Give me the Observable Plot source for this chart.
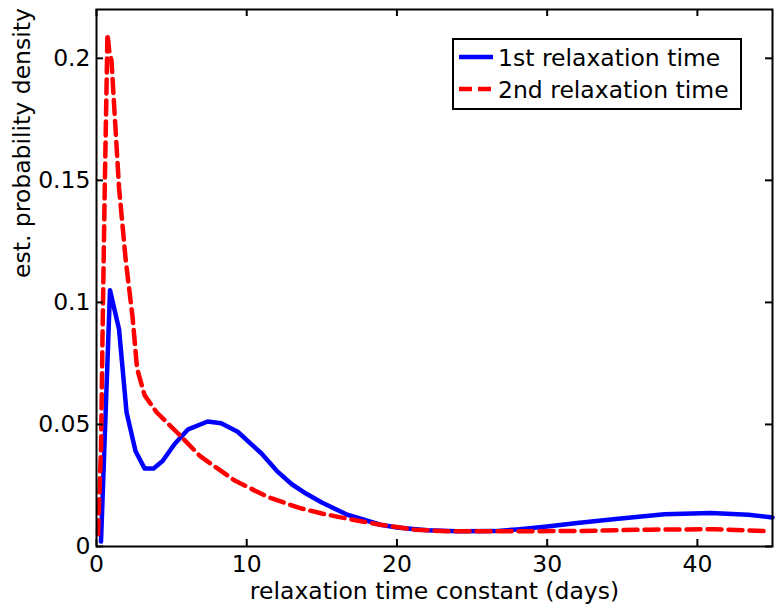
<!DOCTYPE html>
<html><head><meta charset="utf-8">
<script src="https://cdn.jsdelivr.net/npm/d3@7"></script>
<script src="https://cdn.jsdelivr.net/npm/@observablehq/plot@0.6"></script>
<style>
body{margin:0;background:#fff;}
#wrap{position:relative;width:780px;height:615px;}
#legend{position:absolute;left:452px;top:38px;}
</style></head><body><div id="wrap"></div>
<script>
const blueX = [0.3, 0.9, 1.5, 2.0, 2.6, 3.2, 3.8, 4.4, 5.2, 6.1, 7.4, 8.3, 9.4, 11.0, 12.0, 13.0, 14.0, 15.0, 16.7, 18.9, 20, 22, 24, 26.5, 28, 30, 32, 34.4, 37.8, 40.9, 43.4, 45];
const blueY = [0.002, 0.105, 0.089, 0.055, 0.039, 0.032, 0.032, 0.035, 0.042, 0.048, 0.0512, 0.0505, 0.047, 0.038, 0.031, 0.0255, 0.0215, 0.018, 0.013, 0.0089, 0.0078, 0.0067, 0.0062, 0.0063, 0.007, 0.0082, 0.0096, 0.0112, 0.0132, 0.0137, 0.013, 0.0119];
const redX = [0.1, 0.3, 0.4, 0.55, 0.73, 0.85, 1.0, 1.2, 1.5, 1.95, 2.4, 2.7, 3.2, 4.0, 5.4, 6.9, 9.2, 11.4, 13.5, 15.0, 16.7, 18.9, 21.2, 23.4, 27.9, 32.3, 36.8, 41.2, 44.8];
const redY = [0.005, 0.04, 0.086, 0.147, 0.21, 0.203, 0.199, 0.178, 0.147, 0.117, 0.094, 0.073, 0.062, 0.055, 0.0465, 0.037, 0.027, 0.0203, 0.0158, 0.0135, 0.0114, 0.0089, 0.0069, 0.0062, 0.0062, 0.0064, 0.0069, 0.0071, 0.0062];
const xTicks = [0, 10, 20, 30, 40];
const yTicks = [0, 0.05, 0.1, 0.15, 0.2];
const seriesNames = ["1st relaxation time", "2nd relaxation time"];
const xLabel = "relaxation time constant (days)";
const yLabel = "est. probability density";

const blue = blueX.map((x, i) => ({x, y: blueY[i]}));
const red = redX.map((x, i) => ({x, y: redY[i]}));
const FONT = "DejaVu Sans";
const FS = 23.5;
const W = 780, H = 615, ML = 96, MR = 8, MT = 9, MB = 69, TK = 7;
const innerW = W - ML - MR, innerH = H - MT - MB;

const chart = Plot.plot({
  width: W, height: H,
  marginLeft: ML, marginRight: MR, marginTop: MT, marginBottom: MB,
  x: {domain: [0, 45]},
  y: {domain: [0, 0.22]},
  style: {fontFamily: FONT, fontSize: FS + "px", background: "white", color: "black"},
  marks: [
    Plot.line(blue, {x: "x", y: "y", stroke: "#0000ff", strokeWidth: 4.5, strokeLinejoin: "round"}),
    Plot.line(red, {x: "x", y: "y", stroke: "#ff0000", strokeWidth: 4.5, strokeDasharray: "14,7"}),
    Plot.frame({stroke: "black", strokeWidth: 2}),
    Plot.tickX(xTicks, {x: d => d, insetTop: innerH - TK, stroke: "black", strokeWidth: 2}),
    Plot.tickX(xTicks, {x: d => d, insetBottom: innerH - TK, stroke: "black", strokeWidth: 2}),
    Plot.tickY(yTicks, {y: d => d, insetRight: innerW - TK, stroke: "black", strokeWidth: 2}),
    Plot.tickY(yTicks, {y: d => d, insetLeft: innerW - TK, stroke: "black", strokeWidth: 2}),
    Plot.axisX(xTicks, {anchor: "bottom", tickSize: 0, tickPadding: 9, tickFormat: d => String(d), label: null, fontSize: FS}),
    Plot.axisY(yTicks, {anchor: "left", tickSize: 0, tickPadding: 6, tickFormat: d => String(d), label: null, fontSize: FS}),
    Plot.text([xLabel], {text: d => d, frameAnchor: "bottom", dy: 52, fontSize: FS}),
    Plot.text([yLabel], {text: d => d, frameAnchor: "left", dx: -74, rotate: -90, fontSize: FS})
  ]
});
const wrap = document.getElementById("wrap");
wrap.appendChild(chart);

// legend
const ns = "http://www.w3.org/2000/svg";
const lg = document.createElementNS(ns, "svg");
lg.setAttribute("id", "legend");
lg.setAttribute("width", 290); lg.setAttribute("height", 72);
const rect = document.createElementNS(ns, "rect");
rect.setAttribute("x", 1); rect.setAttribute("y", 1);
rect.setAttribute("width", 288); rect.setAttribute("height", 70);
rect.setAttribute("fill", "white"); rect.setAttribute("stroke", "black"); rect.setAttribute("stroke-width", 2);
lg.appendChild(rect);
const styles = [{stroke: "#0000ff", dash: null}, {stroke: "#ff0000", dash: "13,6"}];
seriesNames.forEach((name, i) => {
  const cy = 19 + i * 32;
  const ln = document.createElementNS(ns, "line");
  ln.setAttribute("x1", 7); ln.setAttribute("x2", 41);
  ln.setAttribute("y1", cy); ln.setAttribute("y2", cy);
  ln.setAttribute("stroke", styles[i].stroke); ln.setAttribute("stroke-width", 4.5);
  if (styles[i].dash) ln.setAttribute("stroke-dasharray", styles[i].dash);
  lg.appendChild(ln);
  const t = document.createElementNS(ns, "text");
  t.setAttribute("x", 46); t.setAttribute("y", cy + 8.5);
  t.setAttribute("font-family", FONT); t.setAttribute("font-size", FS);
  t.textContent = name;
  lg.appendChild(t);
});
wrap.appendChild(lg);
</script>
</body></html>
